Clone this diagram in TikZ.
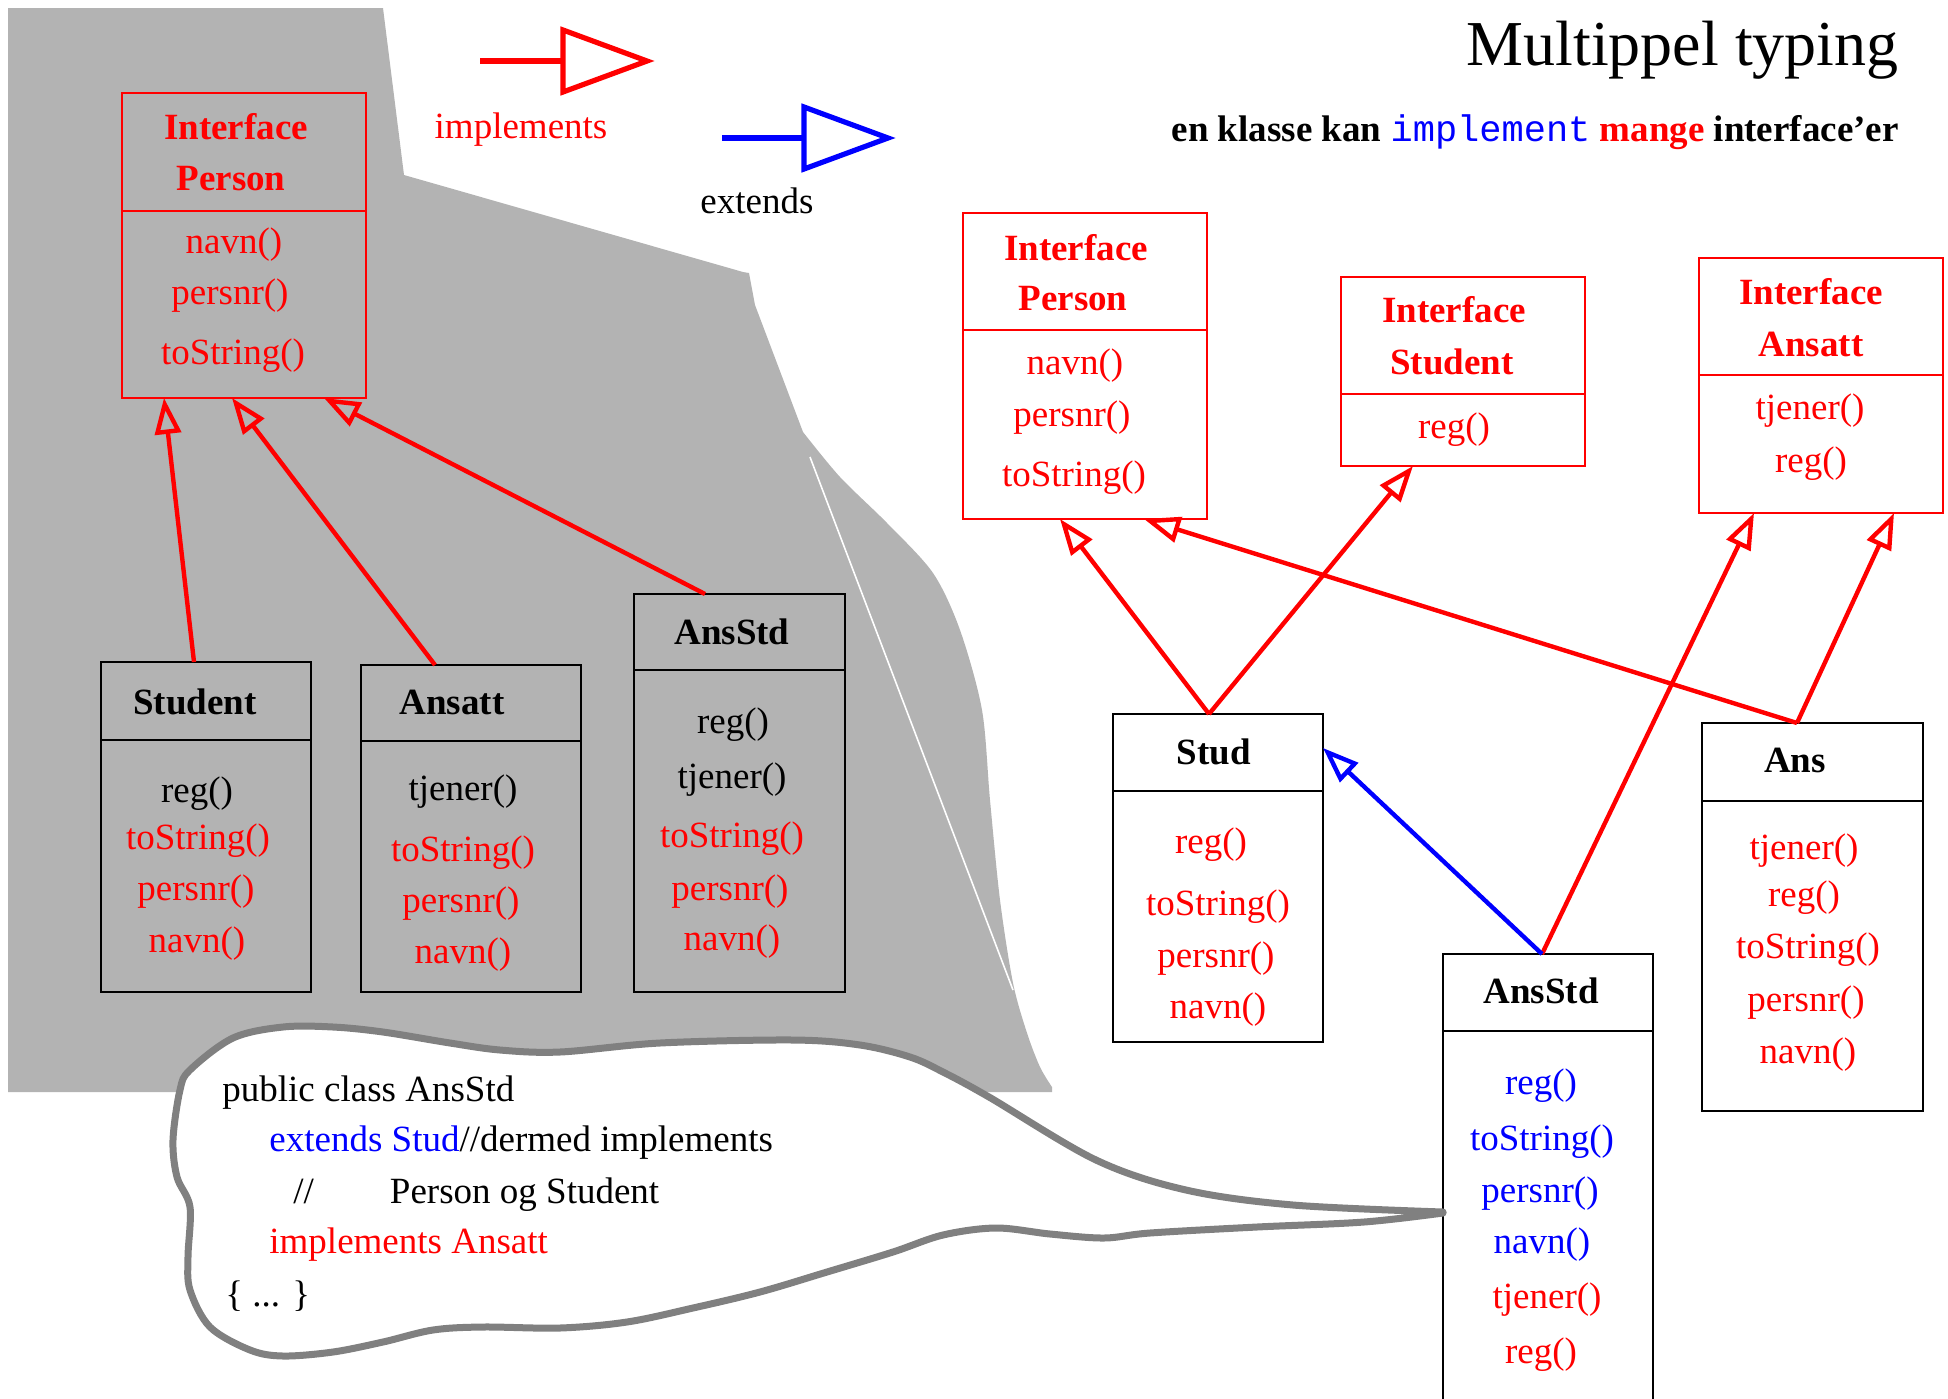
\documentclass[tikz,border=0pt]{standalone}
\usepackage{fontspec}
\setmainfont{Liberation Serif}
\setmonofont{Liberation Mono}
\usetikzlibrary{arrows.meta,fit,calc}
\definecolor{backdrop}{RGB}{179,179,179}
\definecolor{bubble}{RGB}{128,128,128}
\tikzset{
  frame/.style={draw, line width=1.4pt, inner sep=0pt, outer sep=0pt},
  divider/.style={line width=1.4pt},
  lbl/.style={inner sep=0pt, font=\fontsize{18.5}{22}\selectfont, text height=12.8pt, text depth=3.3pt, anchor=center, yshift=-1.5pt},
  head/.style={lbl, font=\fontsize{18.5}{22}\selectfont\bfseries},
  code/.style={anchor=base west, inner sep=0pt, font=\fontsize{18.5}{22}\selectfont},
  realize/.style={draw=red, line width=2.2pt, line join=miter, -{Triangle[open, length=18pt, width=13pt]}},
  inherit/.style={realize, draw=blue},
  legendline/.style={line width=2.6pt, line join=miter},
}
% class box: name, x1, y1, x2, y2, divider y, colour
\newcommand\umlbox[7]{%
  \node[frame, draw=#7, fit={(#2,#3) (#4,#5)}] (#1) {};
  \draw[divider, #7] (#2,#6) -- (#4,#6);}
\begin{document}
\begin{tikzpicture}[x=0.5pt, y=-0.5pt]
\useasboundingbox (0,0) rectangle (1948,1398);
\clip (0,0) rectangle (1948,1398);

% grey backdrop behind the left-hand hierarchy
\fill[backdrop] (8,8) -- (383,8) -- (404,175) -- (743,272) -- (749,273) -- (755,305)
  -- plot[smooth] coordinates {(803,432) (840,477) (887,523) (933,573) (960,630)
     (982,710) (990,800) (1000,900) (1013,983) (1027,1033) (1040,1067) (1052,1087)}
  -- (1052,1092) -- (8,1092) -- cycle;
\draw[white, line width=0.8pt] (810,457) -- (1013,990);

% legend
\coordinate (impl-a) at (480,61);
\coordinate (impl-b) at (563,61);
\draw[legendline, red] (impl-a) -- (impl-b);
\draw[legendline, red] (563,30) -- (647,61) -- (563,92) -- cycle;
\node[lbl, red] (impl-label) at (521,126) {implements};
\coordinate (ext-a) at (722,138);
\coordinate (ext-b) at (804,138);
\draw[legendline, blue] (ext-a) -- (ext-b);
\draw[legendline, blue] (804,107) -- (888,138) -- (804,169) -- cycle;
\node[lbl] (ext-label) at (757,201) {extends};

% heading
\node[anchor=base east, inner sep=0pt, font=\fontsize{32}{38}\selectfont] (title) at (1899,65) {Multippel typing};
\node[anchor=base east, inner sep=0pt, font=\fontsize{18.5}{22}\selectfont\bfseries] (subtitle) at (1899,141)
  {en klasse kan \textcolor{blue}{\mdseries\ttfamily implement} \textcolor{red}{mange} interface’er};

% ---------- left hierarchy ----------
\umlbox{lperson}{122}{93}{366}{398}{211}{red}
\node[head, red] (lperson-h1) at (236,127) {Interface};
\node[head, red] (lperson-h2) at (231,178) {Person};
\node[lbl, red] (lperson-1) at (234,241) {navn()};
\node[lbl, red] (lperson-2) at (230,292) {persnr()};
\node[lbl, red] (lperson-3) at (233,352) {toString()};

\umlbox{lstudent}{101}{662}{311}{992}{740}{black}
\node[head] (lstudent-h) at (195,702) {Student};
\node[lbl] (lstudent-1) at (197,790) {reg()};
\node[lbl, red] (lstudent-2) at (198,837) {toString()};
\node[lbl, red] (lstudent-3) at (196,888) {persnr()};
\node[lbl, red] (lstudent-4) at (197,940) {navn()};

\umlbox{lansatt}{361}{665}{581}{992}{741}{black}
\node[head] (lansatt-h) at (452,702) {Ansatt};
\node[lbl] (lansatt-1) at (463,788) {tjener()};
\node[lbl, red] (lansatt-2) at (463,849) {toString()};
\node[lbl, red] (lansatt-3) at (461,900) {persnr()};
\node[lbl, red] (lansatt-4) at (463,951) {navn()};

\umlbox{lansstd}{634}{594}{845}{992}{670}{black}
\node[head] (lansstd-h) at (732,632) {AnsStd};
\node[lbl] (lansstd-1) at (733,721) {reg()};
\node[lbl] (lansstd-2) at (732,776) {tjener()};
\node[lbl, red] (lansstd-3) at (732,835) {toString()};
\node[lbl, red] (lansstd-4) at (730,888) {persnr()};
\node[lbl, red] (lansstd-5) at (732,938) {navn()};

\draw[realize] ($(lstudent.north west)+(93,0)$) -- ($(lperson.south west)+(42,0)$);
\draw[realize] ($(lansatt.north west)+(74,0)$) -- ($(lperson.south west)+(110,0)$);
\draw[realize] ($(lansstd.north west)+(71,0)$) -- ($(lperson.south west)+(202,0)$);

% ---------- right hierarchy ----------
\umlbox{rperson}{963}{213}{1207}{519}{330}{red}
\node[head, red] (rperson-h1) at (1076,248) {Interface};
\node[head, red] (rperson-h2) at (1073,298) {Person};
\node[lbl, red] (rperson-1) at (1075,362) {navn()};
\node[lbl, red] (rperson-2) at (1072,414) {persnr()};
\node[lbl, red] (rperson-3) at (1074,474) {toString()};

\umlbox{rstudent}{1341}{277}{1585}{466}{394}{red}
\node[head, red] (rstudent-h1) at (1454,310) {Interface};
\node[head, red] (rstudent-h2) at (1452,362) {Student};
\node[lbl, red] (rstudent-1) at (1454,426) {reg()};

\umlbox{ransatt}{1699}{258}{1943}{513}{375}{red}
\node[head, red] (ransatt-h1) at (1811,292) {Interface};
\node[head, red] (ransatt-h2) at (1811,344) {Ansatt};
\node[lbl, red] (ransatt-1) at (1810,407) {tjener()};
\node[lbl, red] (ransatt-2) at (1811,460) {reg()};

\umlbox{stud}{1113}{714}{1323}{1042}{791}{black}
\node[head] (stud-h) at (1214,752) {Stud};
\node[lbl, red] (stud-1) at (1211,841) {reg()};
\node[lbl, red] (stud-2) at (1218,903) {toString()};
\node[lbl, red] (stud-3) at (1216,955) {persnr()};
\node[lbl, red] (stud-4) at (1218,1006) {navn()};

\umlbox{ans}{1702}{723}{1923}{1111}{801}{black}
\node[head] (ans-h) at (1795,760) {Ans};
\node[lbl, red] (ans-1) at (1804,847) {tjener()};
\node[lbl, red] (ans-2) at (1804,894) {reg()};
\node[lbl, red] (ans-3) at (1808,946) {toString()};
\node[lbl, red] (ans-4) at (1806,999) {persnr()};
\node[lbl, red] (ans-5) at (1808,1051) {navn()};

\umlbox{ransstd}{1443}{954}{1653}{1420}{1031}{black}
\node[head] (ransstd-h) at (1541,991) {AnsStd};
\node[lbl, blue] (ransstd-1) at (1541,1082) {reg()};
\node[lbl, blue] (ransstd-2) at (1542,1138) {toString()};
\node[lbl, blue] (ransstd-3) at (1540,1190) {persnr()};
\node[lbl, blue] (ransstd-4) at (1542,1241) {navn()};
\node[lbl, red] (ransstd-5) at (1547,1296) {tjener()};
\node[lbl, red] (ransstd-6) at (1541,1351) {reg()};

\draw[realize] ($(stud.north west)+(96,0)$) -- ($(rperson.south west)+(97,0)$);
\draw[realize] ($(stud.north west)+(96,0)$) -- ($(rstudent.south west)+(72,0)$);
\draw[realize] ($(ans.north west)+(95,0)$) -- ($(rperson.south west)+(181,0)$);
\draw[realize] ($(ans.north west)+(95,0)$) -- ($(ransatt.south west)+(195,0)$);
\draw[realize] ($(ransstd.north west)+(99,0)$) -- ($(ransatt.south west)+(55,0)$);
\draw[inherit] ($(ransstd.north west)+(99,0)$) -- ($(stud.north east)+(0,34)$);

% ---------- speech bubble with the class declaration ----------
\filldraw[draw=bubble, fill=white, line width=3.5pt, line join=round]
  plot[smooth, tension=0.55] coordinates {
    (1443,1212) (1293,1205) (1186,1190) (1096,1160) (989,1097) (943,1072) (910,1057)
    (860,1045) (793,1040) (660,1043) (560,1052) (500,1050) (450,1043) (383,1032)
    (333,1027) (283,1027) (233,1038) (190,1070) (180,1090) (173,1140) (177,1177)
    (190,1207) (188,1257) (190,1290) (210,1327) (250,1350) (283,1356) (333,1352)
    (383,1342) (433,1330) (483,1327) (560,1328) (627,1322) (693,1308) (760,1292)
    (827,1272) (893,1252) (943,1235) (996,1228) (1050,1234) (1104,1238) (1150,1233)
    (1257,1227) (1364,1222) (1443,1213)} -- cycle;
\node[code] (code-1) at (222,1101) {public class AnsStd};
\node[code] (code-2) at (269,1151) {\textcolor{blue}{extends Stud}//dermed implements};
\node[code] (code-3) at (293,1203) {//\hspace*{38pt}Person og Student};
\node[code, red] (code-4) at (269,1253) {implements Ansatt};
\node[code] (code-5) at (225,1306) {\{ ... \}};
\end{tikzpicture}
\end{document}
